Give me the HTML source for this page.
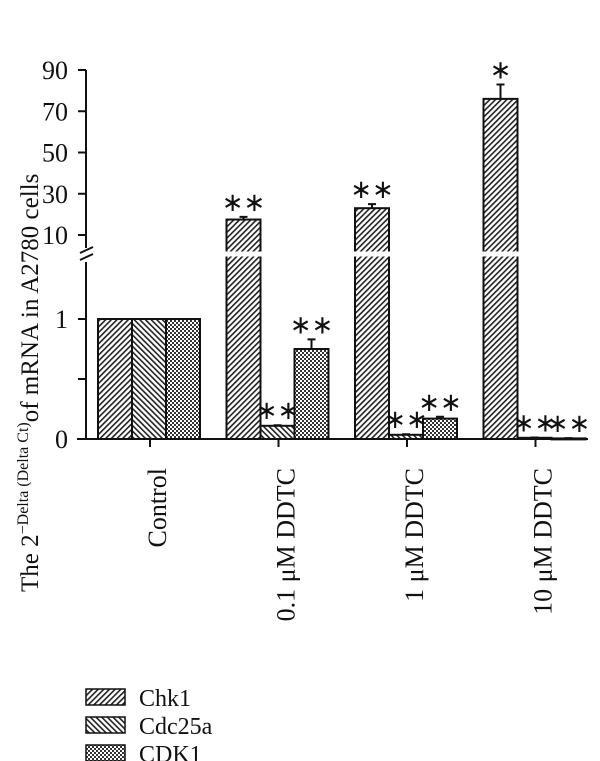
<!DOCTYPE html>
<html><head><meta charset="utf-8"><style>
html,body{margin:0;padding:0;background:#fff;}
svg{display:block;font-family:"Liberation Serif",serif;}
</style></head><body>
<svg id="chart" width="600" height="761" viewBox="0 0 600 761" xmlns="http://www.w3.org/2000/svg">
<defs>
<pattern id="pChk" patternUnits="userSpaceOnUse" width="4" height="4" patternTransform="rotate(45)"><rect width="4" height="4" fill="#fff"/><rect width="1.6" height="4" fill="#222"/></pattern>
<pattern id="pCdc" patternUnits="userSpaceOnUse" width="4" height="4" patternTransform="rotate(-45)"><rect width="4" height="4" fill="#fff"/><rect width="1.6" height="4" fill="#222"/></pattern>
<pattern id="pCdk" patternUnits="userSpaceOnUse" width="4" height="4"><rect width="4" height="4" fill="#333"/><rect x="0" y="0" width="2" height="2" fill="#fff"/><rect x="2" y="2" width="2" height="2" fill="#fff"/></pattern>
</defs>
<g id="axes"></g>
<g id="bars"></g>
<text transform="translate(38,592) rotate(-90)" font-size="25" fill="#111">The 2<tspan font-size="16" dy="-10">−Delta (Delta Ct)</tspan><tspan dy="10">of mRNA in A2780 cells</tspan></text>
<g id="legend"></g>
</svg>
<script>
const categories = ["Control", "0.1 μM DDTC", "1 μM DDTC", "10 μM DDTC"];
const seriesNames = ["Chk1", "Cdc25a", "CDK1"];
const chk1 = [1, 17.5, 23, 76];
const chk1Err = [0, 1.3, 2, 7];
const cdc25a = [1, 0.11, 0.035, 0.01];
const cdc25aErr = [0, 0.005, 0.005, 0.003];
const cdk1 = [1, 0.75, 0.17, 0.005];
const cdk1Err = [0, 0.08, 0.015, 0.002];
const stars = [["", "", ""], ["**", "**", "**"], ["**", "**", "**"], ["*", "**", "**"]];
const upperTicks = [10, 30, 50, 70, 90];
const lowerTicks = [0, 0.5, 1];
const lowerTickLabels = ["0", "", "1"];

const NS = "http://www.w3.org/2000/svg";
const axisX = 86, y0 = 439;
function yLow(v){ return y0 - v * 120; }
function yUp(v){ return 235 - (v - 10) * 165 / 80; }
function yVal(v){ return v <= 1.4 ? yLow(v) : yUp(v); }
function xCat(i){ return 150 + i * 128.5; }
const bw = 34;
function mk(tag, attrs, parent){ const e = document.createElementNS(NS, tag); for (const k in attrs) e.setAttribute(k, attrs[k]); parent.appendChild(e); return e; }

const axes = document.getElementById('axes');
const bars = document.getElementById('bars');
const legend = document.getElementById('legend');

let l1 = mk('line', {x1: axisX, y1: y0, x2: axisX, y2: 262, stroke: '#111', 'stroke-width': 2}, axes);


let l2 = mk('line', {x1: axisX, y1: 248, x2: axisX, y2: yUp(90), stroke: '#111', 'stroke-width': 2}, axes);


let br = mk('path', {d: 'M80,253 L93,247 M80,260 L93,254', stroke: '#111', 'stroke-width': 2, fill: 'none'}, axes);


let xa = mk('line', {x1: 77, y1: y0, x2: 588, y2: y0, stroke: '#111', 'stroke-width': 2}, axes);



upperTicks.forEach(v => {
  const y = yUp(v);
  let t = mk('line', {x1: 78, y1: y, x2: axisX, y2: y, stroke: '#111', 'stroke-width': 2}, axes);
  
  
  let tx = mk('text', {x: 68, y: y + 9, 'text-anchor': 'end', 'font-size': 26, fill: '#111'}, axes);
  tx.textContent = String(v);
  
  
});
lowerTicks.forEach((v, i) => {
  const y = yLow(v);
  let t = mk('line', {x1: 78, y1: y, x2: axisX, y2: y, stroke: '#111', 'stroke-width': 2}, axes);
  
  
  if (lowerTickLabels[i]) {
    let tx = mk('text', {x: 68, y: y + 9, 'text-anchor': 'end', 'font-size': 26, fill: '#111'}, axes);
    tx.textContent = lowerTickLabels[i];
    
    
  }
});

const labelLens = [112, 198, 150, 198];
categories.forEach((c, i) => {
  const x = xCat(i);
  let t = mk('line', {x1: x, y1: y0, x2: x, y2: y0 + 8, stroke: '#111', 'stroke-width': 2}, axes);
  
  
  let tx = mk('text', {transform: `translate(${x + 16},${468}) rotate(-90)`, 'text-anchor': 'end', 'font-size': 26, fill: '#111'}, axes);
  tx.textContent = c;
  
  
});

const allSeries = [chk1, cdc25a, cdk1];
const allErr = [chk1Err, cdc25aErr, cdk1Err];
const fills = ['url(#pChk)', 'url(#pCdc)', 'url(#pCdk)'];
categories.forEach((c, i) => {
  allSeries.forEach((s, j) => {
    const v = s[i];
    const x = xCat(i) - 52 + j * bw;
    const top = yVal(v);
    let r = mk('rect', {x: x, y: top, width: bw, height: Math.max(y0 - top, 1), fill: fills[j], stroke: '#111', 'stroke-width': 2}, bars);
    
    
    if (v > 1.4) {
      let g = mk('rect', {x: x - 2, y: 251.5, width: bw + 4, height: 5, fill: '#fff'}, bars);
      
      
    }
    const e = allErr[j][i];
    if (e > 0) {
      const ye = yVal(v + e);
      let el = mk('path', {d: `M${x + bw/2},${top} L${x + bw/2},${ye} M${x + bw/2 - 4},${ye} L${x + bw/2 + 4},${ye}`, stroke: '#111', 'stroke-width': 2, fill: 'none'}, bars);
      
      
    }
    if (stars[i][j]) {
      const ys = yVal(v + e) - 6;
      let st = mk('text', {x: x + bw/2, y: ys + 18, 'text-anchor': 'middle', 'font-size': 26, fill: '#111'}, bars);
      st.textContent = stars[i][j].replace(/\*/g, '∗');
      
      
      st.setAttribute('y', ys);
    }
  });
});

seriesNames.forEach((n, j) => {
  const y = 689 + j * 28;
  let b = mk('rect', {x: 86, y: y, width: 39, height: 16, fill: fills[j], stroke: '#111', 'stroke-width': 1.5}, legend);
  
  
  let t = mk('text', {x: 139, y: y + 17, 'font-size': 24, fill: '#111'}, legend);
  t.textContent = n;
  
  
});
</script>
</body></html>
